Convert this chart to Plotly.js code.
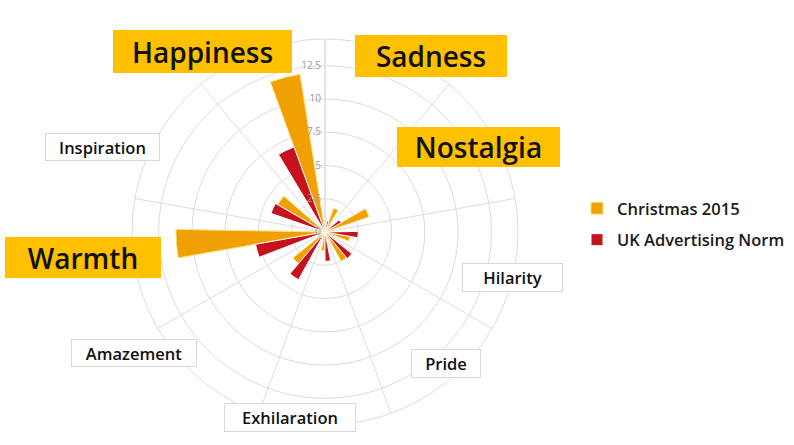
<!DOCTYPE html>
<html>
<head>
<meta charset="utf-8">
<script src="https://cdn.plot.ly/plotly-3.0.1.min.js"></script>
<style>
  html, body { margin: 0; padding: 0; background: #ffffff; }
  #chart { width: 794px; height: 445px; }
</style>
</head>
<body>
<div id="chart"></div>
<script>
// Emotions, clockwise from north
const emotions = ['Sadness', 'Nostalgia', 'Hilarity', 'Pride', 'Exhilaration',
                  'Amazement', 'Warmth', 'Inspiration', 'Happiness'];
const christmas2015 = [1.9, 3.5, 1.9, 2.5, 1.4, 3.1, 11.2, 4.1, 12.0];
const ukNorm        = [0.8, 1.4, 2.5, 2.6, 2.2, 4.1, 5.3, 4.3, 6.8];
const seriesNames = ['Christmas 2015', 'UK Advertising Norm'];
const highlighted = ['Happiness', 'Sadness', 'Nostalgia', 'Warmth'];
const radialTicks = [0, 2.5, 5, 7.5, 10, 12.5];

const FONT = 'Open Sans, Noto Sans, DejaVu Sans, sans-serif';
const ORANGE = '#F0A000';
const RED = '#C5121C';
const GRID = '#DCDCDC';

const barWidth = 0.275;

const traces = [
  {
    type: 'barpolar',
    name: seriesNames[0],
    theta: emotions,
    r: christmas2015,
    width: barWidth,
    offset: 0,
    marker: { color: ORANGE, line: { color: '#FFE08A', width: 1 } },
    legendgroup: 'a'
  },
  {
    type: 'barpolar',
    name: seriesNames[1],
    theta: emotions,
    r: ukNorm,
    width: barWidth,
    offset: -barWidth,
    marker: { color: RED, line: { color: '#FFFFFF', width: 1 } },
    legendgroup: 'b'
  }
];

// label box geometry (px, page coordinates): [cx, cy, w, h]
const boxGeom = {
  'Happiness':   [202, 51, 179, 43],
  'Sadness':     [431, 56, 152, 42],
  'Nostalgia':   [478, 147, 163, 40],
  'Warmth':      [83, 257, 156, 41],
  'Inspiration': [102, 147, 115, 28],
  'Hilarity':    [512, 277, 101, 29],
  'Pride':       [446, 363, 70, 29],
  'Amazement':   [134, 353, 126, 28],
  'Exhilaration':[290, 417, 132, 29]
};
const W = 794, H = 445;
const annotations = emotions.map(function (e) {
  const g = boxGeom[e];
  const big = highlighted.indexOf(e) >= 0;
  return {
    xref: 'paper', yref: 'paper',
    x: g[0] / W, y: 1 - g[1] / H,
    xanchor: 'center', yanchor: 'middle',
    text: e,
    showarrow: false,
    width: g[2] - 2, height: g[3] - 2,
    borderpad: 0,
    bgcolor: big ? '#FFC000' : '#FFFFFF',
    bordercolor: big ? '#FFC000' : '#D9D9D9',
    borderwidth: 1,
    font: { family: FONT, size: big ? 28 : 16.5, color: '#111111', weight: 600 }
  };
});

const layout = {
  width: W, height: H,
  margin: { l: 0, r: 0, t: 0, b: 0 },
  paper_bgcolor: '#ffffff',
  showlegend: true,
  legend: {
    x: 577 / W, y: 1 - 191 / H, xanchor: 'left', yanchor: 'top',
    font: { family: FONT, size: 16.5, color: '#1a1a1a', weight: 600 },
    traceorder: 'grouped', tracegroupgap: 7,
    bgcolor: 'rgba(0,0,0,0)'
  },
  polar: {
    domain: { x: [132 / W, 518 / W], y: [1 - 425 / H, 1 - 39 / H] },
    bgcolor: '#ffffff',
    barmode: 'overlay',
    angularaxis: {
      type: 'category',
      categoryorder: 'array',
      categoryarray: emotions,
      direction: 'clockwise',
      rotation: 70,
      tickmode: 'array',
      tickvals: emotions.map(function (_, i) { return i + 0.5; }),
      showticklabels: false,
      ticks: '',
      showgrid: true,
      gridcolor: GRID,
      gridwidth: 1,
      showline: true,
      linecolor: GRID,
      linewidth: 1
    },
    radialaxis: {
      range: [0, 14.5],
      angle: 90,
      side: 'counterclockwise',
      tickmode: 'array',
      tickvals: radialTicks,
      ticktext: radialTicks.map(String),
      ticks: '',
      showgrid: true,
      gridcolor: GRID,
      gridwidth: 1,
      showline: true,
      linecolor: GRID,
      tickfont: { family: FONT, size: 10, color: '#9a9a9a' },
      tickangle: 90
    }
  },
  annotations: annotations
};

Plotly.newPlot('chart', traces, layout, { displayModeBar: false, staticPlot: true });
</script>
</body>
</html>
